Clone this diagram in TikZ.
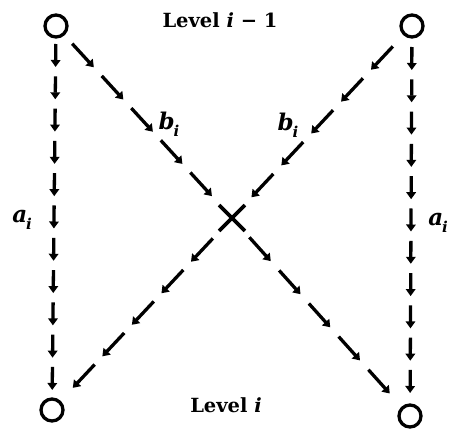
\documentclass[tikz,border=0pt]{standalone}
\usepackage{fontspec}
\setmainfont{DejaVu Serif}
\usetikzlibrary{arrows.meta,calc,shapes.misc}
\tikzset{
  circ/.style={circle,draw,line width=3.3pt,minimum size=22pt,inner sep=0pt},
  crossnode/.style={cross out,draw,line width=3.8pt,minimum size=22pt,inner sep=0pt},
  adash/.style={line width=3.3pt,-{Triangle[width=9.5pt,length=7pt]}},
  lvl/.style={font=\fontsize{19.5}{22}\selectfont\bfseries,inner sep=0pt},
  lab/.style={font=\fontsize{23}{25}\selectfont\bfseries\itshape,inner sep=0pt}
}
\newcommand\dasharrows[6]{%
  \foreach \k in {1,...,#6}{%
    \pgfmathsetmacro\ds{#3+(\k-1)*#5}%
    \pgfmathsetmacro\de{\ds+#4}%
    \draw[adash] ($(#1)!\ds pt!(#2)$) -- ($(#1)!\de pt!(#2)$);}}
\newcommand\sublab[1]{#1\kern-0.05em\raisebox{-0.3em}{\fontsize{15}{16}\selectfont i}}
\begin{document}
\begin{tikzpicture}[x=1pt,y=-1pt]
\useasboundingbox (0,0) rectangle (452,431);
\node[circ] (tl) at (56,26) {};
\node[circ] (tr) at (412,26) {};
\node[circ] (bl) at (52,410) {};
\node[circ] (br) at (410,416) {};
\node[crossnode] (x) at (232,218) {};
\dasharrows{tl}{bl}{18}{23}{32.3}{11}
\dasharrows{tr}{br}{21}{23}{32.3}{11}
\dasharrows{tl}{x}{24}{32}{43.7}{5}
\dasharrows{tr}{x}{28}{32}{43.7}{5}
\dasharrows{x}{br}{26}{32}{44.5}{5}
\dasharrows{x}{bl}{28}{32}{43.2}{5}
\node[lvl] (top) at (220,20) {Level \textit{i} − 1};
\node[lvl] (bot) at (226,405) {Level \textit{i}};
\node[lab] (al) at (22,220) {\sublab{a}};
\node[lab] (ar) at (438,223) {\sublab{a}};
\node[lab] (bl1) at (169,124) {\sublab{b}};
\node[lab] (br1) at (288,125) {\sublab{b}};
\end{tikzpicture}
\end{document}
